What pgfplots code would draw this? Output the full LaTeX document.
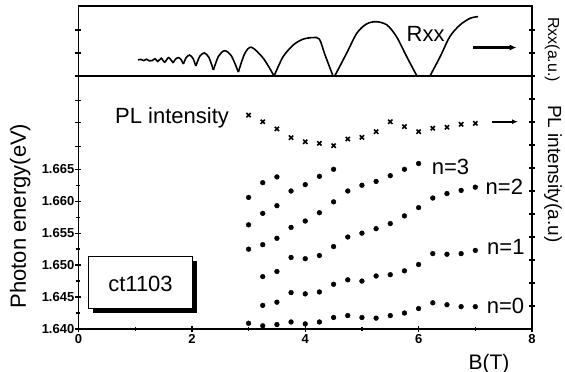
\documentclass[border=0pt]{standalone}
\usepackage{fontspec}
\setmainfont{Liberation Sans}
\usepackage{pgfplots}
\usepackage{pgfplotstable}
\pgfplotsset{compat=1.18}
\usetikzlibrary{arrows.meta}

\pgfplotstableread{
B E
3.00 1.6409
3.25 1.6405
3.50 1.6407
3.75 1.6411
4.00 1.6408
4.25 1.6411
4.50 1.6418
4.75 1.6421
5.00 1.6418
5.25 1.6417
5.50 1.6421
5.75 1.6425
6.00 1.6432
6.25 1.6441
6.50 1.6438
6.75 1.6435
7.00 1.6435
}\nzero

\pgfplotstableread{
B E
3.25 1.6437
3.50 1.6442
3.75 1.6457
4.00 1.6455
4.25 1.6458
4.50 1.6470
4.75 1.6477
5.00 1.6475
5.25 1.6483
5.50 1.6485
5.75 1.6491
6.00 1.6501
6.25 1.6518
6.50 1.6517
6.75 1.6518
7.00 1.6523
}\none

\pgfplotstableread{
B E
3.25 1.6482
3.50 1.6490
3.75 1.6512
4.00 1.6510
4.25 1.6515
4.50 1.6529
4.75 1.6544
5.00 1.6550
5.25 1.6557
5.50 1.6565
5.75 1.6577
6.00 1.6590
6.25 1.6605
6.50 1.6612
6.75 1.6617
7.00 1.6622
}\ntwo

\pgfplotstableread{
B E
3.00 1.6525
3.25 1.6532
3.50 1.6542
3.75 1.6559
4.00 1.6569
4.25 1.6582
4.50 1.6599
4.75 1.6616
5.00 1.6625
5.25 1.6631
5.50 1.6640
5.75 1.6650
6.00 1.6659
}\nthree

\pgfplotstableread{
B E
3.00 1.6563
3.25 1.6581
3.50 1.6593
3.75 1.6616
4.00 1.6626
4.25 1.6639
4.50 1.6650
}\nfour

\pgfplotstableread{
B E
3.00 1.6606
3.25 1.6629
3.50 1.6638
}\nfive

\pgfplotstableread{
B I
3.00 9.30
3.25 9.01
3.50 8.70
3.75 8.32
4.00 8.14
4.25 8.07
4.50 7.97
4.75 8.26
5.00 8.33
5.25 8.58
5.50 9.01
5.75 8.80
6.00 8.58
6.25 8.73
6.50 8.77
6.75 8.90
7.00 8.94
}\pl

\pgfplotsset{
  panel/.style={
    scale only axis, width=453.5pt,
    xmin=0, xmax=8,
    tick align=center,
    major tick length=6pt, minor tick length=4pt,
    axis line style={line width=1.8pt},
    every tick/.style={black, line width=1.3pt},
    tick label style={font=\fontsize{13}{13}\selectfont\bfseries},
    /pgf/number format/assume math mode=true,
  }
}

\begin{document}
\begin{tikzpicture}
\useasboundingbox (-78.5pt,-43pt) rectangle (486.5pt,329pt);

% lower panel: photon energy
\begin{axis}[panel,
  at={(0pt,0pt)}, anchor=south west, height=253pt,
  ymin=1.640, ymax=1.6796,
  xtick={0,2,4,6,8}, minor xtick={1,3,5,7},
  ytick={1.640,1.645,1.650,1.655,1.660,1.665},
  minor ytick={1.6425,1.6475,1.6525,1.6575,1.6625},
  extra y ticks={1.6686,1.6723,1.6758}, extra y tick labels={},
  yticklabel style={/pgf/number format/fixed, /pgf/number format/fixed zerofill, /pgf/number format/precision=3, /tikz/inner sep=1pt},
  xticklabel style={/tikz/inner sep=2pt},
  ytick pos=left, xtick pos=bottom,
]
\addplot[only marks, mark=*, mark size=2.4pt] table {\nzero};
\addplot[only marks, mark=*, mark size=2.4pt] table {\none};
\addplot[only marks, mark=*, mark size=2.4pt] table {\ntwo};
\addplot[only marks, mark=*, mark size=2.4pt] table {\nthree};
\addplot[only marks, mark=*, mark size=2.4pt] table {\nfour};
\addplot[only marks, mark=*, mark size=2.4pt] table {\nfive};
\end{axis}

% lower panel: PL intensity (right axis)
\begin{axis}[panel,
  at={(0pt,0pt)}, anchor=south west, height=253pt,
  ymin=0, ymax=11,
  xtick=\empty, ytick={1,2,3,4,5,6,7,8,9,10}, yticklabels={},
  ytick pos=right,
]
\addplot[only marks, mark=x, mark size=3pt, line width=1.6pt] table {\pl};
\end{axis}

% upper panel: Rxx
\begin{axis}[panel,
  at={(0pt,253pt)}, anchor=south west, height=70pt,
  ymin=0, ymax=3.043,
  xtick=\empty, ytick={0,1,2}, yticklabels={},
  ytick pos=both,
]
\addplot[smooth, line width=1.6pt] coordinates {(1.05,0.70) (1.10,0.72) (1.15,0.67) (1.20,0.73) (1.25,0.66) (1.30,0.67) (1.35,0.75) (1.40,0.63) (1.46,0.77) (1.52,0.60) (1.59,0.80) (1.67,0.565)};
\addplot[smooth, line width=1.6pt] coordinates {(1.67,0.565) (1.71,0.73) (1.76,0.80) (1.81,0.71) (1.85,0.52)};
\addplot[smooth, line width=1.6pt] coordinates {(1.85,0.52) (1.90,0.80) (1.96,0.91) (2.02,0.76) (2.07,0.435)};
\addplot[smooth, line width=1.6pt] coordinates {(2.07,0.435) (2.14,0.86) (2.22,1.00) (2.30,0.81) (2.38,0.26)};
\addplot[smooth, line width=1.6pt] coordinates {(2.38,0.26) (2.47,0.86) (2.58,1.10) (2.70,0.86) (2.82,0.17)};
\addplot[smooth, line width=1.6pt] coordinates {(2.82,0.17) (2.93,0.96) (3.05,1.25) (3.26,0.77) (3.45,0)};
\addplot[smooth, line width=1.6pt] coordinates {(3.45,0) (3.61,0.84) (3.79,1.35) (3.96,1.60) (4.14,1.67) (4.25,1.60) (4.35,0.91) (4.49,0)};
\addplot[line width=1.6pt] coordinates {(4.49,0) (4.52,0)};
\addplot[smooth, line width=1.6pt] coordinates {(4.52,0) (4.73,0.99) (4.91,1.86) (5.08,2.26) (5.25,2.36) (5.44,2.22) (5.61,1.71) (5.79,0.84) (5.97,0)};
\addplot[line width=1.6pt] coordinates {(5.97,0) (6.20,0)};
\addplot[smooth, line width=1.6pt] coordinates {(6.20,0) (6.38,0.84) (6.55,1.71) (6.73,2.22) (6.91,2.51) (7.05,2.58)};
\end{axis}

% labels
\node[anchor=base, rotate=90, inner sep=0pt, font=\fontsize{22}{22}\selectfont] at (-52.5pt,113pt) {Photon energy(eV)};
\node[anchor=base, inner sep=0pt, font=\fontsize{21}{21}\selectfont] at (410.5pt,-40pt) {B(T)};
\node[anchor=base west, rotate=-90, inner sep=0pt, font=\fontsize{16}{16}\selectfont] at (469.5pt,312pt) {Rxx(a.u.)};
\node[anchor=base west, rotate=-90, inner sep=0pt, font=\fontsize{19}{19}\selectfont] at (469.5pt,224pt) {PL intensity(a.u)};
\node[anchor=base west, inner sep=0pt, font=\fontsize{22}{22}\selectfont] at (36.5pt,205.7pt) {PL intensity};
\node[anchor=base west, inner sep=0pt, font=\fontsize{22}{22}\selectfont] at (328pt,287.3pt) {Rxx};
\node[anchor=base west, inner sep=0pt, font=\fontsize{22}{22}\selectfont] at (353.2pt,154pt) {n=3};
\node[anchor=base west, inner sep=0pt, font=\fontsize{22}{22}\selectfont] at (407pt,134pt) {n=2};
\node[anchor=base west, inner sep=0pt, font=\fontsize{22}{22}\selectfont] at (408.5pt,74pt) {n=1};
\node[anchor=base west, inner sep=0pt, font=\fontsize{22}{22}\selectfont] at (408.2pt,15.7pt) {n=0};

% arrows
\draw[line width=2.6pt, -{Latex[length=7pt,width=6pt]}] (394.8pt,281.5pt) -- (438.2pt,281.5pt);
\draw[line width=1.8pt, -{Latex[length=6pt,width=5pt]}] (413.5pt,207.3pt) -- (439.5pt,207.3pt);

% sample box with shadow
\fill[black] (14.3pt,16.3pt) rectangle (118.7pt,67.8pt);
\draw[line width=1.5pt, fill=white] (9.8pt,20.7pt) rectangle (114.2pt,72.3pt);
\node[anchor=base, inner sep=0pt, font=\fontsize{22}{22}\selectfont] at (62pt,37.3pt) {ct1103};
\end{tikzpicture}
\end{document}
